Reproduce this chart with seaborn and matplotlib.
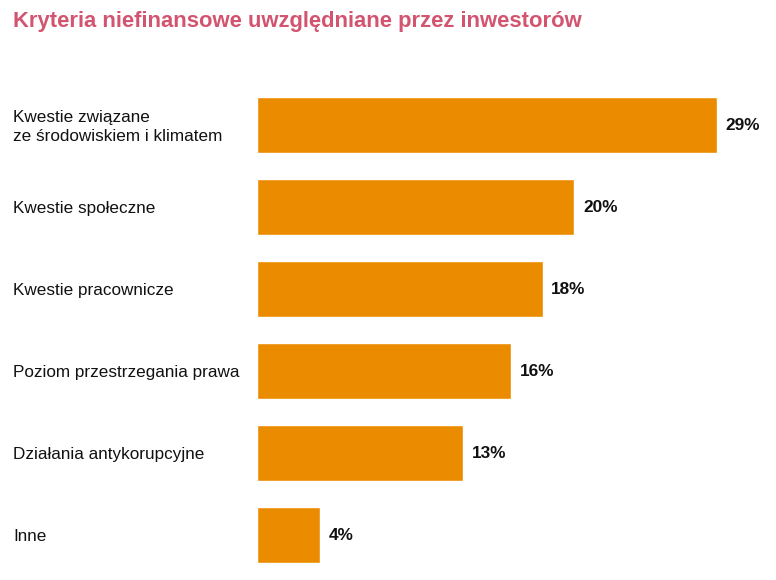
import matplotlib
matplotlib.use('Agg')
import matplotlib.pyplot as plt
import matplotlib.transforms as mtransforms
import pandas as pd
import seaborn as sns

# Chart data
categories = ['Kwestie związane\nze środowiskiem i klimatem',
              'Kwestie społeczne',
              'Kwestie pracownicze',
              'Poziom przestrzegania prawa',
              'Działania antykorupcyjne',
              'Inne']
values = [29, 20, 18, 16, 13, 4]
value_labels = ['29%', '20%', '18%', '16%', '13%', '4%']

sns.set_style('white')
plt.rcParams['font.family'] = ['Liberation Sans', 'DejaVu Sans']

df = pd.DataFrame({'category': categories, 'value': values})

fig = plt.figure(figsize=(7.76, 5.8), dpi=100)
W, H = 776, 580
# axes spans from bar start to end of the longest bar, rows of 82 px
ax = fig.add_axes([257 / W, 4 / H, (717 - 257) / W, 492 / H])

sns.barplot(data=df, x='value', y='category', orient='h', color='#EB8C00',
            saturation=1, width=56 / 82, ax=ax)
ax.set_xlim(0, 29)
ax.set_ylim(5.5, -0.5)
ax.set_xlabel('')
ax.set_ylabel('')
ax.set_xticks([])
ax.set_yticks([])
sns.despine(ax=ax, left=True, bottom=True)

# category labels, left aligned near the figure edge
trans = mtransforms.blended_transform_factory(fig.transFigure, ax.transData)
for i, cat in enumerate(categories):
    ax.text(13 / W, i + 0.02, cat, transform=trans, ha='left', va='center',
            fontsize=12.3, color='#111111', linespacing=1.33)

# value labels at the end of each bar
for i, (v, lab) in enumerate(zip(values, value_labels)):
    ax.text(v + 0.55, i, lab, ha='left', va='center', fontsize=12.4,
            fontweight='bold', color='#111111', clip_on=False)

fig.text(13 / W, 1 - 22 / H, 'Kryteria niefinansowe uwzględniane przez inwestorów',
         ha='left', va='center', fontsize=15.8, fontweight='bold', color='#D2546F')

fig.savefig('out.png', dpi=100)
